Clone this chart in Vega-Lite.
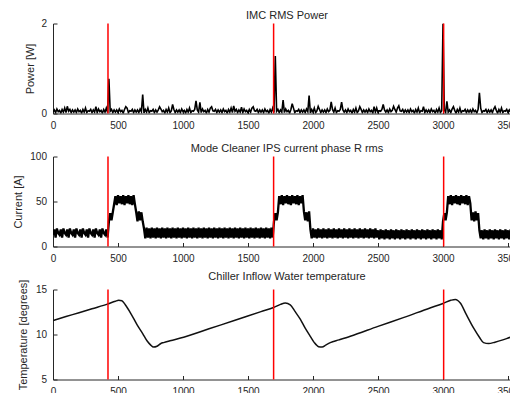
{
"$schema": "https://vega.github.io/schema/vega-lite/v6.json",
"autosize": {"type": "pad"},
"padding": {"left": 12, "top": 9.5, "right": 0, "bottom": 0},
"spacing": 43,
"bounds": "flush",
"config": {
 "view": {"stroke": null},
 "font": "Liberation Sans",
 "axis": {"grid": false, "domainColor": "#262626", "tickColor": "#262626", "labelColor": "#262626", "titleColor": "#262626", "labelFont": "Liberation Sans", "titleFont": "Liberation Sans", "labelFontSize": 10, "titleFontSize": 11, "titleFontWeight": "normal", "tickSize": -4, "labelPadding": 10.5, "labelFlush": false, "domainWidth": 1, "tickWidth": 1, "format": "d"},
 "title": {"font": "Liberation Sans", "fontSize": 11, "fontWeight": "normal", "color": "#262626", "anchor": "middle", "frame": "group", "baseline": "alphabetic", "offset": -2.6}
},
"datasets": {
 "ev": [{"t": 423}, {"t": 1697}, {"t": 3005}],
 "tmp": [{"t":0,"v":11.55},{"t":100,"v":11.99},{"t":200,"v":12.42},{"t":300,"v":12.86},{"t":423,"v":13.4},{"t":480,"v":13.7},{"t":505,"v":13.8},{"t":530,"v":13.75},{"t":556,"v":13.3},{"t":600,"v":12.3},{"t":646,"v":11.1},{"t":690,"v":10.1},{"t":723,"v":9.3},{"t":750,"v":8.85},{"t":774,"v":8.6},{"t":800,"v":8.7},{"t":830,"v":9.0},{"t":851,"v":9.1},{"t":900,"v":9.3},{"t":1005,"v":9.7},{"t":1200,"v":10.63},{"t":1400,"v":11.58},{"t":1600,"v":12.54},{"t":1697,"v":13.0},{"t":1750,"v":13.35},{"t":1787,"v":13.5},{"t":1825,"v":13.3},{"t":1860,"v":12.6},{"t":1902,"v":11.7},{"t":1940,"v":10.7},{"t":1979,"v":9.8},{"t":2010,"v":9.1},{"t":2043,"v":8.65},{"t":2070,"v":8.6},{"t":2100,"v":8.85},{"t":2133,"v":9.1},{"t":2200,"v":9.4},{"t":2287,"v":9.8},{"t":2500,"v":10.9},{"t":2700,"v":11.9},{"t":2900,"v":12.95},{"t":3000,"v":13.45},{"t":3060,"v":13.8},{"t":3095,"v":13.9},{"t":3133,"v":13.5},{"t":3180,"v":12.2},{"t":3236,"v":10.7},{"t":3280,"v":9.7},{"t":3312,"v":9.1},{"t":3351,"v":9.0},{"t":3400,"v":9.15},{"t":3460,"v":9.4},{"t":3520,"v":9.7},{"t":3600,"v":10.0}],
 "s": [
{"t":0,"p":0.03,"c":13},{"t":10,"p":0.08,"c":19},{"t":20,"p":0.02,"c":10},{"t":30,"p":0.10,"c":20},{"t":40,"p":0.04,"c":15},{"t":50,"p":0.07,"c":13},{"t":60,"p":0.01,"c":19},{"t":70,"p":0.09,"c":10},{"t":80,"p":0.03,"c":20},{"t":90,"p":0.12,"c":15},
{"t":100,"p":0.02,"c":13},{"t":110,"p":0.16,"c":19},{"t":120,"p":0.05,"c":10},{"t":130,"p":0.09,"c":20},{"t":140,"p":0.02,"c":15},{"t":150,"p":0.08,"c":13},{"t":160,"p":0.03,"c":19},{"t":170,"p":0.08,"c":10},{"t":180,"p":0.02,"c":20},{"t":190,"p":0.10,"c":15},
{"t":200,"p":0.04,"c":13},{"t":210,"p":0.07,"c":19},{"t":220,"p":0.01,"c":10},{"t":230,"p":0.09,"c":20},{"t":240,"p":0.03,"c":15},{"t":250,"p":0.12,"c":13},{"t":260,"p":0.02,"c":19},{"t":270,"p":0.06,"c":10},{"t":280,"p":0.05,"c":20},{"t":290,"p":0.09,"c":15},
{"t":300,"p":0.02,"c":13},{"t":310,"p":0.08,"c":19},{"t":320,"p":0.03,"c":10},{"t":330,"p":0.15,"c":20},{"t":340,"p":0.02,"c":15},{"t":350,"p":0.10,"c":13},{"t":360,"p":0.04,"c":19},{"t":370,"p":0.07,"c":10},{"t":380,"p":0.01,"c":20},{"t":390,"p":0.09,"c":15},
{"t":400,"p":0.03,"c":13},{"t":410,"p":0.12,"c":19},{"t":420,"p":0.02,"c":10},{"t":430,"p":0.77,"c":28},{"t":440,"p":0.05,"c":37},{"t":450,"p":0.09,"c":29},{"t":460,"p":0.02,"c":38},{"t":470,"p":0.08,"c":47},{"t":480,"p":0.03,"c":56},{"t":490,"p":0.08,"c":46},
{"t":500,"p":0.02,"c":57},{"t":510,"p":0.10,"c":48},{"t":520,"p":0.04,"c":56},{"t":530,"p":0.07,"c":47},{"t":540,"p":0.01,"c":57},{"t":550,"p":0.09,"c":46},{"t":560,"p":0.15,"c":56},{"t":570,"p":0.12,"c":48},{"t":580,"p":0.02,"c":57},{"t":590,"p":0.06,"c":47},
{"t":600,"p":0.05,"c":56},{"t":610,"p":0.09,"c":46},{"t":620,"p":0.02,"c":57},{"t":630,"p":0.08,"c":47},{"t":640,"p":0.03,"c":38},{"t":650,"p":0.08,"c":28},{"t":660,"p":0.02,"c":39},{"t":670,"p":0.10,"c":29},{"t":680,"p":0.04,"c":38},{"t":690,"p":0.42,"c":28},
{"t":700,"p":0.01,"c":20},{"t":710,"p":0.09,"c":9},{"t":720,"p":0.03,"c":21},{"t":730,"p":0.12,"c":10},{"t":740,"p":0.02,"c":20},{"t":750,"p":0.06,"c":9},{"t":760,"p":0.05,"c":21},{"t":770,"p":0.09,"c":10},{"t":780,"p":0.02,"c":20},{"t":790,"p":0.08,"c":9},
{"t":800,"p":0.03,"c":21},{"t":810,"p":0.08,"c":10},{"t":820,"p":0.15,"c":20},{"t":830,"p":0.10,"c":9},{"t":840,"p":0.04,"c":21},{"t":850,"p":0.07,"c":10},{"t":860,"p":0.01,"c":20},{"t":870,"p":0.09,"c":9},{"t":880,"p":0.03,"c":21},{"t":890,"p":0.12,"c":10},
{"t":900,"p":0.02,"c":20},{"t":910,"p":0.06,"c":9},{"t":920,"p":0.20,"c":21},{"t":930,"p":0.09,"c":10},{"t":940,"p":0.02,"c":20},{"t":950,"p":0.08,"c":9},{"t":960,"p":0.03,"c":21},{"t":970,"p":0.08,"c":10},{"t":980,"p":0.02,"c":20},{"t":990,"p":0.10,"c":9},
{"t":1000,"p":0.04,"c":21},{"t":1010,"p":0.07,"c":10},{"t":1020,"p":0.01,"c":20},{"t":1030,"p":0.09,"c":9},{"t":1040,"p":0.03,"c":21},{"t":1050,"p":0.12,"c":10},{"t":1060,"p":0.02,"c":20},{"t":1070,"p":0.06,"c":9},{"t":1080,"p":0.05,"c":21},{"t":1090,"p":0.09,"c":10},
{"t":1100,"p":0.28,"c":20},{"t":1110,"p":0.08,"c":9},{"t":1120,"p":0.03,"c":21},{"t":1130,"p":0.25,"c":10},{"t":1140,"p":0.02,"c":20},{"t":1150,"p":0.10,"c":9},{"t":1160,"p":0.04,"c":21},{"t":1170,"p":0.07,"c":10},{"t":1180,"p":0.01,"c":20},{"t":1190,"p":0.09,"c":9},
{"t":1200,"p":0.03,"c":21},{"t":1210,"p":0.12,"c":10},{"t":1220,"p":0.15,"c":20},{"t":1230,"p":0.06,"c":9},{"t":1240,"p":0.05,"c":21},{"t":1250,"p":0.09,"c":10},{"t":1260,"p":0.02,"c":20},{"t":1270,"p":0.08,"c":9},{"t":1280,"p":0.03,"c":21},{"t":1290,"p":0.08,"c":10},
{"t":1300,"p":0.02,"c":20},{"t":1310,"p":0.10,"c":9},{"t":1320,"p":0.04,"c":21},{"t":1330,"p":0.07,"c":10},{"t":1340,"p":0.01,"c":20},{"t":1350,"p":0.09,"c":9},{"t":1360,"p":0.03,"c":21},{"t":1370,"p":0.12,"c":10},{"t":1380,"p":0.02,"c":20},{"t":1390,"p":0.17,"c":9},
{"t":1400,"p":0.05,"c":21},{"t":1410,"p":0.09,"c":10},{"t":1420,"p":0.02,"c":20},{"t":1430,"p":0.08,"c":9},{"t":1440,"p":0.03,"c":21},{"t":1450,"p":0.14,"c":10},{"t":1460,"p":0.02,"c":20},{"t":1470,"p":0.10,"c":9},{"t":1480,"p":0.04,"c":21},{"t":1490,"p":0.07,"c":10},
{"t":1500,"p":0.01,"c":20},{"t":1510,"p":0.09,"c":9},{"t":1520,"p":0.03,"c":21},{"t":1530,"p":0.12,"c":10},{"t":1540,"p":0.15,"c":20},{"t":1550,"p":0.06,"c":9},{"t":1560,"p":0.05,"c":21},{"t":1570,"p":0.09,"c":10},{"t":1580,"p":0.02,"c":20},{"t":1590,"p":0.08,"c":9},
{"t":1600,"p":0.03,"c":21},{"t":1610,"p":0.08,"c":10},{"t":1620,"p":0.02,"c":20},{"t":1630,"p":0.10,"c":9},{"t":1640,"p":0.04,"c":21},{"t":1650,"p":0.07,"c":10},{"t":1660,"p":0.01,"c":20},{"t":1670,"p":0.09,"c":9},{"t":1680,"p":0.03,"c":21},{"t":1690,"p":0.12,"c":10},
{"t":1700,"p":0.02,"c":28},{"t":1710,"p":1.28,"c":37},{"t":1720,"p":0.05,"c":29},{"t":1730,"p":0.09,"c":38},{"t":1740,"p":0.02,"c":56},{"t":1750,"p":0.08,"c":47},{"t":1760,"p":0.03,"c":57},{"t":1770,"p":0.30,"c":46},{"t":1780,"p":0.02,"c":56},{"t":1790,"p":0.10,"c":48},
{"t":1800,"p":0.04,"c":57},{"t":1810,"p":0.07,"c":47},{"t":1820,"p":0.01,"c":56},{"t":1830,"p":0.09,"c":46},{"t":1840,"p":0.22,"c":57},{"t":1850,"p":0.12,"c":48},{"t":1860,"p":0.02,"c":56},{"t":1870,"p":0.06,"c":47},{"t":1880,"p":0.05,"c":57},{"t":1890,"p":0.09,"c":46},
{"t":1900,"p":0.02,"c":56},{"t":1910,"p":0.08,"c":48},{"t":1920,"p":0.03,"c":57},{"t":1930,"p":0.08,"c":39},{"t":1940,"p":0.02,"c":29},{"t":1950,"p":0.10,"c":38},{"t":1960,"p":0.04,"c":28},{"t":1970,"p":0.40,"c":39},{"t":1980,"p":0.01,"c":19},{"t":1990,"p":0.09,"c":9},
{"t":2000,"p":0.03,"c":20},{"t":2010,"p":0.12,"c":10},{"t":2020,"p":0.02,"c":19},{"t":2030,"p":0.06,"c":9},{"t":2040,"p":0.16,"c":20},{"t":2050,"p":0.09,"c":10},{"t":2060,"p":0.02,"c":19},{"t":2070,"p":0.08,"c":9},{"t":2080,"p":0.03,"c":20},{"t":2090,"p":0.08,"c":10},
{"t":2100,"p":0.02,"c":19},{"t":2110,"p":0.10,"c":9},{"t":2120,"p":0.04,"c":20},{"t":2130,"p":0.07,"c":10},{"t":2140,"p":0.26,"c":19},{"t":2150,"p":0.09,"c":9},{"t":2160,"p":0.03,"c":20},{"t":2170,"p":0.12,"c":10},{"t":2180,"p":0.02,"c":19},{"t":2190,"p":0.06,"c":9},
{"t":2200,"p":0.05,"c":20},{"t":2210,"p":0.09,"c":10},{"t":2220,"p":0.25,"c":19},{"t":2230,"p":0.08,"c":9},{"t":2240,"p":0.03,"c":20},{"t":2250,"p":0.08,"c":10},{"t":2260,"p":0.02,"c":19},{"t":2270,"p":0.10,"c":9},{"t":2280,"p":0.04,"c":20},{"t":2290,"p":0.07,"c":10},
{"t":2300,"p":0.01,"c":19},{"t":2310,"p":0.09,"c":9},{"t":2320,"p":0.03,"c":20},{"t":2330,"p":0.12,"c":10},{"t":2340,"p":0.02,"c":19},{"t":2350,"p":0.06,"c":9},{"t":2360,"p":0.15,"c":20},{"t":2370,"p":0.09,"c":10},{"t":2380,"p":0.02,"c":19},{"t":2390,"p":0.08,"c":9},
{"t":2400,"p":0.03,"c":20},{"t":2410,"p":0.08,"c":10},{"t":2420,"p":0.02,"c":19},{"t":2430,"p":0.10,"c":9},{"t":2440,"p":0.04,"c":20},{"t":2450,"p":0.07,"c":10},{"t":2460,"p":0.01,"c":19},{"t":2470,"p":0.15,"c":9},{"t":2480,"p":0.03,"c":20},{"t":2490,"p":0.12,"c":10},
{"t":2500,"p":0.02,"c":18},{"t":2510,"p":0.06,"c":8},{"t":2520,"p":0.05,"c":19},{"t":2530,"p":0.09,"c":9},{"t":2540,"p":0.20,"c":18},{"t":2550,"p":0.08,"c":8},{"t":2560,"p":0.03,"c":19},{"t":2570,"p":0.08,"c":9},{"t":2580,"p":0.02,"c":18},{"t":2590,"p":0.10,"c":8},
{"t":2600,"p":0.04,"c":19},{"t":2610,"p":0.07,"c":9},{"t":2620,"p":0.16,"c":18},{"t":2630,"p":0.09,"c":8},{"t":2640,"p":0.03,"c":19},{"t":2650,"p":0.12,"c":9},{"t":2660,"p":0.17,"c":18},{"t":2670,"p":0.06,"c":8},{"t":2680,"p":0.05,"c":19},{"t":2690,"p":0.09,"c":9},
{"t":2700,"p":0.02,"c":18},{"t":2710,"p":0.08,"c":8},{"t":2720,"p":0.03,"c":19},{"t":2730,"p":0.08,"c":9},{"t":2740,"p":0.02,"c":18},{"t":2750,"p":0.10,"c":8},{"t":2760,"p":0.04,"c":19},{"t":2770,"p":0.07,"c":9},{"t":2780,"p":0.01,"c":18},{"t":2790,"p":0.09,"c":8},
{"t":2800,"p":0.03,"c":19},{"t":2810,"p":0.12,"c":9},{"t":2820,"p":0.02,"c":18},{"t":2830,"p":0.06,"c":8},{"t":2840,"p":0.05,"c":19},{"t":2850,"p":0.15,"c":9},{"t":2860,"p":0.02,"c":18},{"t":2870,"p":0.08,"c":8},{"t":2880,"p":0.03,"c":19},{"t":2890,"p":0.08,"c":9},
{"t":2900,"p":0.02,"c":18},{"t":2910,"p":0.10,"c":8},{"t":2920,"p":0.04,"c":19},{"t":2930,"p":0.07,"c":9},{"t":2940,"p":0.01,"c":18},{"t":2950,"p":0.09,"c":8},{"t":2960,"p":0.03,"c":19},{"t":2970,"p":0.12,"c":9},{"t":2980,"p":0.02,"c":18},{"t":2990,"p":0.06,"c":8},
{"t":3000,"p":2.0,"c":28},{"t":3010,"p":0.09,"c":37},{"t":3020,"p":0.02,"c":29},{"t":3030,"p":0.27,"c":38},{"t":3040,"p":0.03,"c":56},{"t":3050,"p":0.08,"c":47},{"t":3060,"p":0.02,"c":57},{"t":3070,"p":0.10,"c":46},{"t":3080,"p":0.15,"c":56},{"t":3090,"p":0.07,"c":48},
{"t":3100,"p":0.01,"c":57},{"t":3110,"p":0.09,"c":47},{"t":3120,"p":0.03,"c":56},{"t":3130,"p":0.12,"c":46},{"t":3140,"p":0.02,"c":57},{"t":3150,"p":0.06,"c":48},{"t":3160,"p":0.05,"c":56},{"t":3170,"p":0.09,"c":47},{"t":3180,"p":0.02,"c":57},{"t":3190,"p":0.08,"c":46},
{"t":3200,"p":0.03,"c":56},{"t":3210,"p":0.08,"c":48},{"t":3220,"p":0.02,"c":29},{"t":3230,"p":0.10,"c":38},{"t":3240,"p":0.04,"c":28},{"t":3250,"p":0.07,"c":39},{"t":3260,"p":0.01,"c":29},{"t":3270,"p":0.09,"c":37},{"t":3280,"p":0.46,"c":18},{"t":3290,"p":0.12,"c":9},
{"t":3300,"p":0.02,"c":18},{"t":3310,"p":0.06,"c":8},{"t":3320,"p":0.05,"c":19},{"t":3330,"p":0.09,"c":9},{"t":3340,"p":0.02,"c":18},{"t":3350,"p":0.08,"c":8},{"t":3360,"p":0.03,"c":19},{"t":3370,"p":0.08,"c":9},{"t":3380,"p":0.02,"c":18},{"t":3390,"p":0.10,"c":8},
{"t":3400,"p":0.15,"c":19},{"t":3410,"p":0.07,"c":9},{"t":3420,"p":0.01,"c":18},{"t":3430,"p":0.09,"c":8},{"t":3440,"p":0.03,"c":19},{"t":3450,"p":0.12,"c":9},{"t":3460,"p":0.02,"c":18},{"t":3470,"p":0.06,"c":8},{"t":3480,"p":0.05,"c":19},{"t":3490,"p":0.09,"c":9},
{"t":3500,"p":0.02,"c":18},{"t":3510,"p":0.08,"c":8},{"t":3520,"p":0.03,"c":19},{"t":3530,"p":0.08,"c":9},{"t":3540,"p":0.02,"c":18},{"t":3550,"p":0.10,"c":8},{"t":3560,"p":0.04,"c":19},{"t":3570,"p":0.07,"c":9},{"t":3580,"p":0.01,"c":18},{"t":3590,"p":0.09,"c":8},{"t":3600,"p":0.03,"c":19}
 ]
},
"vconcat": [
 {
  "title": "IMC RMS Power",
  "width": 468, "height": 90,
  "layer": [
   {"data": {"name": "s"}, "mark": {"type": "line", "color": "#000000", "strokeWidth": 1.6, "clip": true},
    "encoding": {
     "x": {"field": "t", "type": "quantitative", "scale": {"domain": [0, 3600], "nice": false}, "axis": {"values": [0,500,1000,1500,2000,2500,3000,3500], "title": null, "format": "d"}},
     "y": {"field": "p", "type": "quantitative", "scale": {"domain": [0, 2], "nice": false}, "axis": {"values": [0,1,2], "format": "d", "title": "Power [W]", "titleX": -19.5, "titleBaseline": "alphabetic"}}
    }},
   {"data": {"name": "ev"}, "mark": {"type": "rule", "color": "#ff0000", "strokeWidth": 1.5},
    "encoding": {"x": {"field": "t", "type": "quantitative"}}}
  ]
 },
 {
  "title": "Mode Cleaner IPS current phase R rms",
  "width": 468, "height": 90,
  "layer": [
   {"data": {"name": "s"}, "mark": {"type": "line", "color": "#000000", "strokeWidth": 2.3, "clip": true},
    "encoding": {
     "x": {"field": "t", "type": "quantitative", "scale": {"domain": [0, 3600], "nice": false}, "axis": {"values": [0,500,1000,1500,2000,2500,3000,3500], "title": null, "format": "d"}},
     "y": {"field": "c", "type": "quantitative", "scale": {"domain": [0, 100], "nice": false}, "axis": {"values": [0,50,100], "format": "d", "title": "Current [A]", "titleX": -31.3, "titleBaseline": "alphabetic"}}
    }},
   {"data": {"name": "ev"}, "mark": {"type": "rule", "color": "#ff0000", "strokeWidth": 1.5},
    "encoding": {"x": {"field": "t", "type": "quantitative"}}}
  ]
 },
 {
  "title": "Chiller Inflow Water temperature",
  "width": 468, "height": 90,
  "layer": [
   {"data": {"name": "tmp"}, "mark": {"type": "line", "color": "#111111", "strokeWidth": 1.5, "interpolate": "monotone", "clip": true},
    "encoding": {
     "x": {"field": "t", "type": "quantitative", "scale": {"domain": [0, 3600], "nice": false}, "axis": {"values": [0,500,1000,1500,2000,2500,3000,3500], "title": null, "format": "d"}},
     "y": {"field": "v", "type": "quantitative", "scale": {"domain": [5, 15], "nice": false, "zero": false}, "axis": {"values": [5,10,15], "format": "d", "title": "Temperature [degrees]", "titleX": -26.2, "titleBaseline": "alphabetic"}}
    }},
   {"data": {"name": "ev"}, "mark": {"type": "rule", "color": "#ff0000", "strokeWidth": 1.5},
    "encoding": {"x": {"field": "t", "type": "quantitative"}}}
  ]
 }
]
}
